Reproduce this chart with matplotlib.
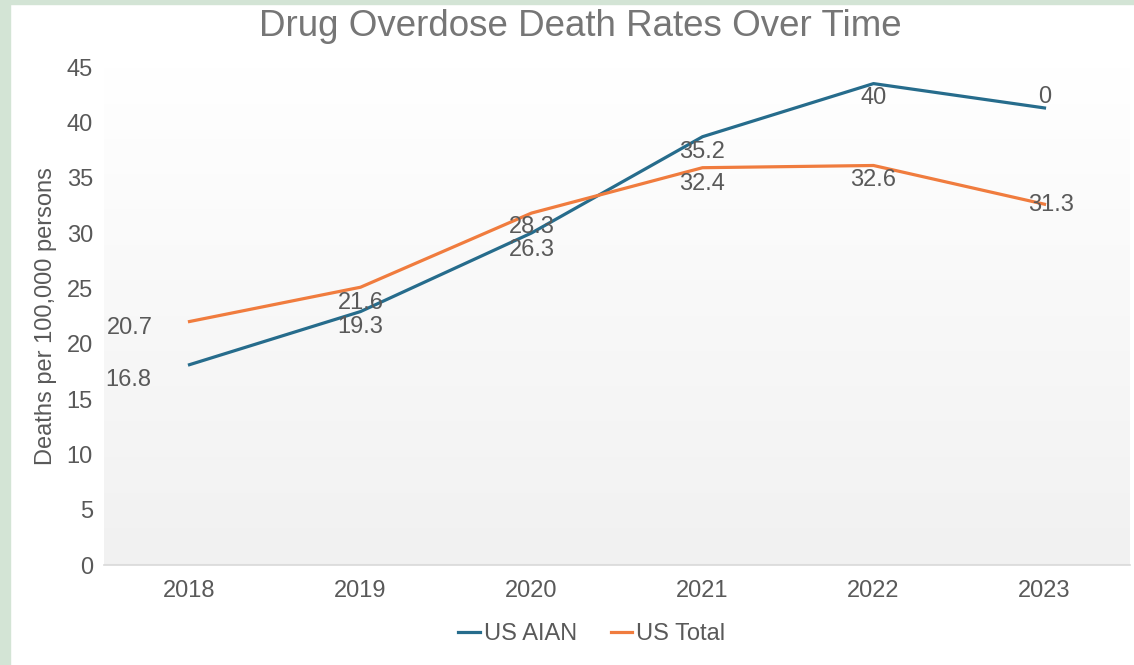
import numpy as np
import matplotlib
matplotlib.use("Agg")
import matplotlib.pyplot as plt
from matplotlib.patches import Rectangle

# data
years = ["2018", "2019", "2020", "2021", "2022", "2023"]
aian = [18.1, 22.9, 30.0, 38.7, 43.5, 41.3]
total = [22.0, 25.1, 31.8, 35.9, 36.1, 32.6]
# data labels as printed in the reference (they do not match the lines)
aian_labels = ["16.8", "19.3", "26.3", "35.2", "40", "0"]
total_labels = ["20.7", "21.6", "28.3", "32.4", "32.6", "31.3"]

# where the labels sit (x offset in categories, y in data units)
aian_lab_dx = [-0.36, 0, 0, 0, 0, 0]
aian_lab_y = [16.7, 21.5, 28.5, 37.3, 42.2, 42.3]
total_lab_dx = [-0.35, 0, 0, 0, 0, 0.04]
total_lab_y = [21.4, 23.7, 30.5, 34.4, 34.8, 32.5]

BLUE = "#266C8C"
ORANGE = "#F07C3E"
GREY = "#595959"
plt.rcParams["font.family"] = ["Liberation Sans", "DejaVu Sans"]

fig = plt.figure(figsize=(11.34, 6.65), dpi=100)
fig.patch.set_facecolor("white")
# light green frame on the left and top
fig.patches.append(Rectangle((0, 0), 10 / 1134, 1, transform=fig.transFigure,
                             color="#D3E4D5", zorder=0))
fig.patches.append(Rectangle((0, 1 - 4 / 665), 1, 4 / 665, transform=fig.transFigure,
                             color="#D3E4D5", zorder=0))

ax = fig.add_axes([104 / 1134, 100 / 665, 1026 / 1134, 498 / 665])
x = np.arange(len(years))
ax.set_xlim(-0.5, len(years) - 0.5)
ax.set_ylim(0, 45)

# plot area gradient, white at top to light grey at bottom
grad = np.linspace(1.0, 0.945, 256).reshape(-1, 1)
ax.imshow(np.dstack([grad, grad, grad]), extent=[-0.5, len(years) - 0.5, 0, 45],
          aspect="auto", origin="upper", zorder=0)

ax.plot(x, aian, color=BLUE, lw=2.3, label="US AIAN", zorder=3)
ax.plot(x, total, color=ORANGE, lw=2.3, label="US Total", zorder=3)

for i in range(len(years)):
    ax.text(x[i] + aian_lab_dx[i], aian_lab_y[i], aian_labels[i], ha="center", va="center",
            fontsize=17, color=GREY, zorder=4)
    ax.text(x[i] + total_lab_dx[i], total_lab_y[i], total_labels[i], ha="center", va="center",
            fontsize=17, color=GREY, zorder=4)

ax.set_xticks(x)
ax.set_xticklabels(years)
ax.set_yticks(np.arange(0, 46, 5))
ax.tick_params(axis="both", length=0, labelsize=17, labelcolor=GREY)
ax.tick_params(axis="x", pad=11)
ax.tick_params(axis="y", pad=8)
for s in ["top", "right", "left"]:
    ax.spines[s].set_visible(False)
ax.spines["bottom"].set_color("#D9D9D9")
ax.spines["bottom"].set_linewidth(1.2)

ax.set_ylabel("Deaths per 100,000 persons", fontsize=17, color=GREY, labelpad=7)
fig.text(580 / 1134, 1 - 27 / 665, "Drug Overdose Death Rates Over Time", ha="center",
         va="center", fontsize=26.5, color="#767676")

leg = fig.legend(loc="center", bbox_to_anchor=(592 / 1134, 1 - 634 / 665), ncol=2,
                 frameon=False, fontsize=17, handlelength=0.9, handletextpad=0.2,
                 columnspacing=1.4)
for t in leg.get_texts():
    t.set_color(GREY)

fig.savefig("out.png", dpi=100)
